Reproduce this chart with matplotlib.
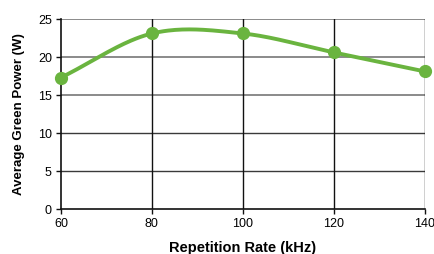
import numpy as np
import matplotlib
matplotlib.use("Agg")
import matplotlib.pyplot as plt

rep_rate = [60, 80, 100, 120, 140]
power = [17.3, 23.1, 23.1, 20.6, 18.1]
x_ticks = [60, 80, 100, 120, 140]
y_ticks = [0, 5, 10, 15, 20, 25]

plt.rcParams['font.family'] = ['Liberation Sans', 'DejaVu Sans']

def smooth(xs, ys, n=40):
    xs = np.asarray(xs, float); ys = np.asarray(ys, float)
    m = np.zeros_like(ys)
    for i in range(len(xs)):
        if i == 0:
            m[i] = (ys[1] - ys[0]) / (xs[1] - xs[0])
        elif i == len(xs) - 1:
            m[i] = (ys[-1] - ys[-2]) / (xs[-1] - xs[-2])
        else:
            m[i] = (ys[i+1] - ys[i-1]) / (xs[i+1] - xs[i-1])
    ox, oy = [], []
    for i in range(len(xs) - 1):
        h = xs[i+1] - xs[i]
        t = np.linspace(0, 1, n)
        h00 = 2*t**3 - 3*t**2 + 1
        h10 = t**3 - 2*t**2 + t
        h01 = -2*t**3 + 3*t**2
        h11 = t**3 - t**2
        ox.extend(xs[i] + t*h)
        oy.extend(h00*ys[i] + h10*h*m[i] + h01*ys[i+1] + h11*h*m[i+1])
    return np.array(ox), np.array(oy)

fig = plt.figure(figsize=(4.35, 2.54), dpi=100)
ax = fig.add_axes([0.140, 0.177, 0.837, 0.748])

for y in y_ticks[1:]:
    c = '#8a8a8a' if y >= 15 else '#3a3a3a'
    w = 1.4 if y >= 15 else 1.0
    ax.axhline(y, color=c, lw=w, zorder=1)
for x in x_ticks[1:]:
    ax.axvline(x, color='#111111', lw=1.0, zorder=1)

sx, sy = smooth(rep_rate, power)
green = '#6ab43f'
ax.plot(sx, sy, color=green, lw=2.8, zorder=3, solid_capstyle='round')
ax.plot(rep_rate, power, 'o', color=green, ms=8.5, zorder=4, clip_on=False)

ax.set_xlim(60, 140)
ax.set_ylim(0, 25)
ax.set_xticks(x_ticks)
ax.set_yticks(y_ticks)
ax.tick_params(labelsize=9, length=3.5, width=1, color='#111111', pad=3)
for s in ['top', 'right']:
    ax.spines[s].set_visible(False)
for s in ['left', 'bottom']:
    ax.spines[s].set_color('#111111')
    ax.spines[s].set_linewidth(1.2)

ax.set_xlabel('Repetition Rate (kHz)', fontsize=10.5, fontweight='bold', labelpad=8)
ax.set_ylabel('Average Green Power (W)', fontsize=9.5, fontweight='bold', labelpad=9)

fig.savefig('out.png', dpi=100)
